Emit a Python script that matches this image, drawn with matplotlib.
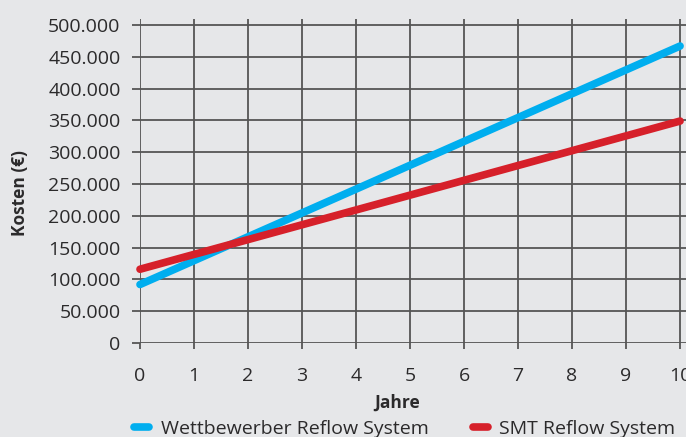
import matplotlib
matplotlib.use('Agg')
import matplotlib.pyplot as plt

plt.rcParams['font.family'] = ['Open Sans', 'DejaVu Sans']

# Kostenverlauf über die Jahre
jahre = [0, 1, 2, 3, 4, 5, 6, 7, 8, 9, 10]
wettbewerber = [92000, 129500, 167000, 204500, 242000, 279500, 317000, 354500, 392000, 429500, 467000]
smt = [116000, 139300, 162600, 185900, 209200, 232500, 255800, 279100, 302400, 325700, 349000]
yticks = [0, 50000, 100000, 150000, 200000, 250000, 300000, 350000, 400000, 450000, 500000]
ytick_labels = ['0', '50.000', '100.000', '150.000', '200.000', '250.000', '300.000',
                '350.000', '400.000', '450.000', '500.000']

bg = '#e6e7e9'
gridc = '#555555'
blue = '#00aeef'
red = '#d6202a'
txt = '#2b2a2b'

fig = plt.figure(figsize=(6.86, 4.37), dpi=100, facecolor=bg)
ax = fig.add_axes([140/686, (437-343)/437, (686-140)/686, (343-19)/437])
ax.set_facecolor(bg)

ax.plot(jahre, wettbewerber, color=blue, lw=5.5, solid_capstyle='round', clip_on=False, zorder=3,
        label='Wettbewerber Reflow System')
ax.plot(jahre, smt, color=red, lw=5.5, solid_capstyle='round', clip_on=False, zorder=3,
        label='SMT Reflow System')

ax.set_xlim(0, 10.11)
ax.set_ylim(0, 509500)
ax.set_xticks(jahre)
ax.set_yticks(yticks)
ax.set_yticklabels(ytick_labels)
ax.grid(True, color=gridc, lw=1.3)
ax.set_axisbelow(True)
for s in ax.spines.values():
    s.set_visible(False)
ax.tick_params(axis='y', length=6, width=1.3, color=gridc, pad=8, labelsize=14, labelcolor=txt)
ax.tick_params(axis='x', length=4, width=1.3, color=gridc, pad=13, labelsize=14, labelcolor=txt)

fig.text(20/686, 1 - 193/437, 'Kosten (€)', rotation=90, ha='center', va='center',
         fontsize=12.5, fontweight='bold', color=txt)
fig.text(397/686, 1 - 403/437, 'Jahre', ha='center', va='center',
         fontsize=12.5, fontweight='bold', color=txt)

fig.legend(loc='center', bbox_to_anchor=(405/686, 1 - 429/437), ncol=2, frameon=False,
           fontsize=14, handlelength=0.75, columnspacing=2.3, handletextpad=0.6,
           labelcolor=txt)

fig.savefig('out.png', dpi=100, facecolor=bg)
